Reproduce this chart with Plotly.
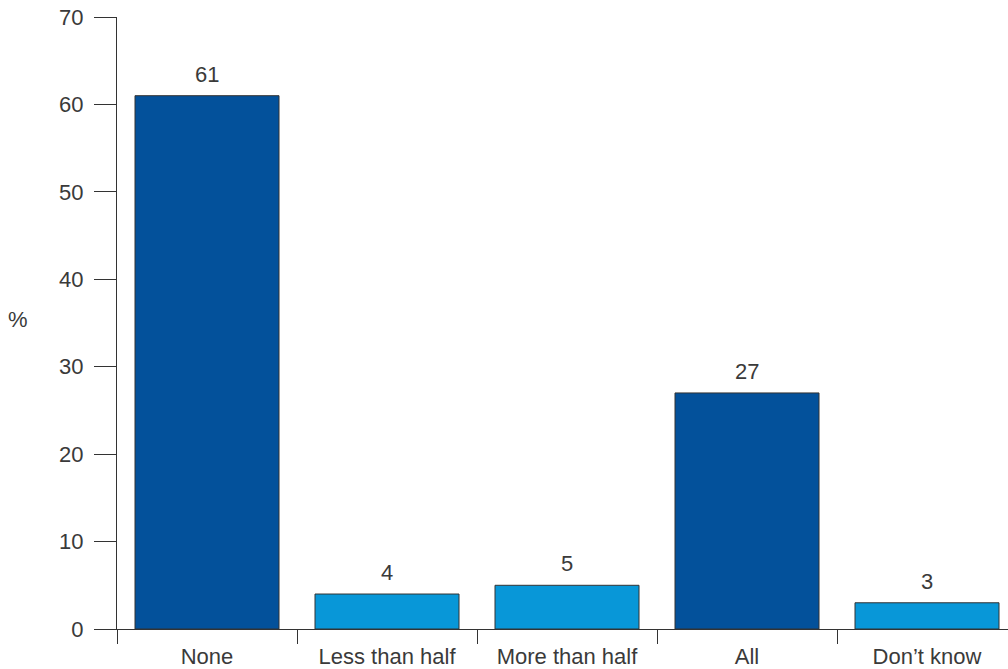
import plotly.graph_objects as go

categories = ["None", "Less than half", "More than half", "All", "Don\u2019t know"]
values = [61, 4, 5, 27, 3]
colors = ["#03519B", "#0897D8", "#0897D8", "#03519B", "#0897D8"]
y_ticks = [0, 10, 20, 30, 40, 50, 60, 70]

font_family = "Liberation Sans, Arial, sans-serif"
text_color = "#3a3a3a"
fs = 22

fig = go.Figure()
fig.add_trace(go.Bar(
    x=categories,
    y=values,
    marker=dict(color=colors, line=dict(color="#333333", width=1)),
    width=0.8,
    hoverinfo="skip",
))

for c, v in zip(categories, values):
    fig.add_annotation(x=c, y=v, text=str(v), showarrow=False,
                       yanchor="bottom", yshift=7,
                       font=dict(family=font_family, size=fs, color=text_color))

fig.add_annotation(xref="paper", yref="paper", x=-0.111, y=0.506, text="%",
                   showarrow=False, xanchor="center", yanchor="middle",
                   font=dict(family=font_family, size=fs, color=text_color))

fig.update_layout(
    width=1008, height=669,
    margin=dict(l=117, r=0, t=17, b=40),
    plot_bgcolor="white", paper_bgcolor="white",
    showlegend=False,
    bargap=0.2,
    font=dict(family=font_family, size=fs, color=text_color),
)
fig.update_xaxes(
    type="category",
    range=[-0.5, 4.45],
    automargin=False,
    showline=True, linecolor="#333333", linewidth=1,
    ticks="outside", tickson="boundaries", ticklen=14, tickcolor="#333333",
    ticklabelstandoff=8, ticklabeloverflow="allow",
    showgrid=False,
    tickfont=dict(family=font_family, size=fs, color=text_color),
)
fig.update_yaxes(
    range=[0, 70],
    tickvals=y_ticks,
    automargin=False,
    showline=True, linecolor="#333333", linewidth=1,
    ticks="outside", ticklen=22, tickcolor="#333333",
    ticklabelstandoff=6, ticklabeloverflow="allow",
    showgrid=False, zeroline=False,
    tickfont=dict(family=font_family, size=fs, color=text_color),
)

fig.write_html("out.html", config={"displayModeBar": False},
               post_script="document.body.style.margin='0px';")
